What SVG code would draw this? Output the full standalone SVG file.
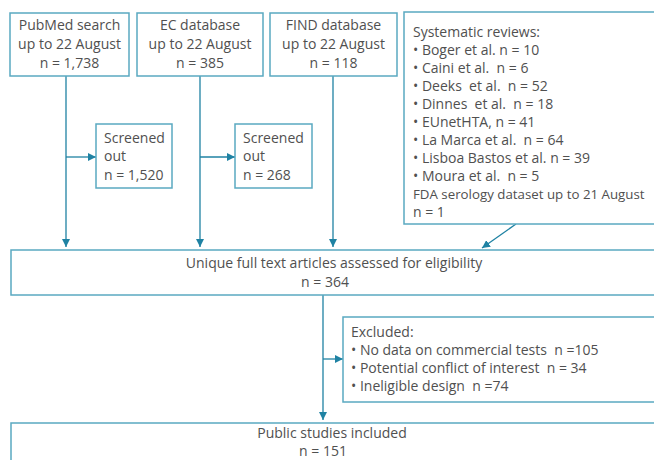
<svg xmlns="http://www.w3.org/2000/svg" width="654" height="460" viewBox="0 0 654 460">
<defs>
<style>
.box{fill:#fff;stroke:#5aa9c1;stroke-width:1.5}
.ln{fill:none;stroke:#1f82a3;stroke-width:1.3}
text{font-family:"Open Sans","Liberation Sans",sans-serif;font-size:14px;fill:#505050;white-space:pre}
.c{text-anchor:middle}
</style>
<marker id="ah" viewBox="0 0 8 8" refX="8" refY="4" markerWidth="8" markerHeight="8" markerUnits="userSpaceOnUse" orient="auto">
<path d="M0,0 L8,4 L0,8 Z" fill="#1f82a3"/>
</marker>
</defs>
<rect width="654" height="460" fill="#fff"/>
<g id="connectors">
<path class="ln" d="M66,76 V247" marker-end="url(#ah)"/>
<path class="ln" d="M66,157 H96" marker-end="url(#ah)"/>
<path class="ln" d="M200,76 V247" marker-end="url(#ah)"/>
<path class="ln" d="M200,157 H235" marker-end="url(#ah)"/>
<path class="ln" d="M333,76 V247" marker-end="url(#ah)"/>
<path class="ln" d="M516,224 L482,248" marker-end="url(#ah)"/>
<path class="ln" d="M323,295 V420" marker-end="url(#ah)"/>
<path class="ln" d="M323,359 H343" marker-end="url(#ah)"/>
</g>
<g id="pubmed">
<rect class="box" x="10" y="13" width="119" height="63"/>
<text class="c" x="69.5" y="30">PubMed search</text>
<text class="c" x="69.5" y="49">up to 22 August</text>
<text class="c" x="69.5" y="68">n = 1,738</text>
</g>
<g id="ec">
<rect class="box" x="137" y="13" width="126" height="63"/>
<text class="c" x="200" y="30">EC database</text>
<text class="c" x="200" y="49">up to 22 August</text>
<text class="c" x="200" y="68">n = 385</text>
</g>
<g id="find">
<rect class="box" x="270" y="13" width="127" height="63"/>
<text class="c" x="333.5" y="30">FIND database</text>
<text class="c" x="333.5" y="49">up to 22 August</text>
<text class="c" x="333.5" y="68">n = 118</text>
</g>
<g id="reviews">
<rect class="box" x="404" y="12" width="260" height="212"/>
<text x="413" y="37">Systematic reviews:</text>
<text x="413" y="55">• Boger et al. n = 10</text>
<text x="413" y="73">• Caini et al.  n = 6</text>
<text x="413" y="91">• Deeks  et al.  n = 52</text>
<text x="413" y="109">• Dinnes  et al.  n = 18</text>
<text x="413" y="127">• EUnetHTA, n = 41</text>
<text x="413" y="145">• La Marca et al.  n = 64</text>
<text x="413" y="163">• Lisboa Bastos et al. n = 39</text>
<text x="413" y="181">• Moura et al.  n = 5</text>
<text x="413" y="199" style="font-size:13.3px">FDA serology dataset up to 21 August</text>
<text x="413" y="217">n = 1</text>
</g>
<g id="screened1">
<rect class="box" x="96" y="124" width="76" height="64"/>
<text x="104" y="143">Screened</text>
<text x="104" y="161">out</text>
<text x="104" y="180">n = 1,520</text>
</g>
<g id="screened2">
<rect class="box" x="235" y="124" width="77" height="64"/>
<text x="243" y="143">Screened</text>
<text x="243" y="161">out</text>
<text x="243" y="180">n = 268</text>
</g>
<g id="unique">
<rect class="box" x="11" y="250" width="660" height="45"/>
<text class="c" x="334" y="268">Unique full text articles assessed for eligibility</text>
<text class="c" x="325" y="287">n = 364</text>
</g>
<g id="excluded">
<rect class="box" x="343" y="317" width="320" height="85"/>
<text x="351" y="337">Excluded:</text>
<text x="351" y="355">• No data on commercial tests  n =105</text>
<text x="351" y="373">• Potential conflict of interest  n = 34</text>
<text x="351" y="391">• Ineligible design  n =74</text>
</g>
<g id="public">
<rect class="box" x="11" y="423" width="660" height="50"/>
<text class="c" x="332" y="438">Public studies included</text>
<text class="c" x="323" y="456">n = 151</text>
</g>
</svg>
